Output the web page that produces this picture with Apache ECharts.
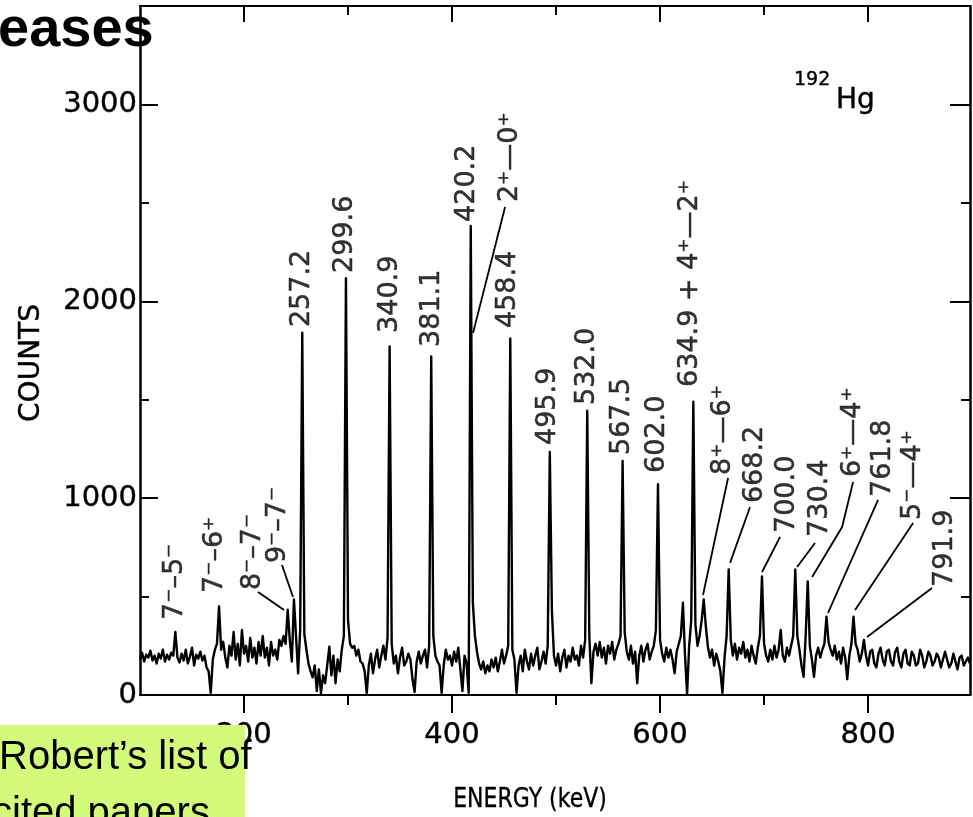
<!DOCTYPE html>
<html><head><meta charset="utf-8">
<script src="https://cdn.jsdelivr.net/npm/echarts@6/dist/echarts.min.js"></script>
<style>html,body{margin:0;padding:0;background:#fff}#c{width:973px;height:817px}</style>
</head><body><div id="c"></div><script>
// ---- data ----
const energyStart = 100;   // keV of first channel
const energyStep = 2;      // keV per channel
const counts = [
 180,215,170,205,190,225,175,200,160,210,
 185,230,170,205,180,215,200,320,190,165,
 210,175,230,160,195,240,150,205,185,220,
 175,200,140,120,10,180,230,260,450,230,
 270,190,140,250,200,320,180,260,150,330,
 210,250,170,290,190,240,160,270,200,300,
 190,240,150,270,200,230,180,280,250,300,
 260,433,280,170,485,300,110,330,1840,310,
 230,160,120,90,150,20,130,10,100,60,
 150,245,100,200,60,180,120,230,300,2117,
 380,260,240,250,200,230,170,160,120,10,
 150,210,110,180,230,140,200,250,180,290,
 1770,260,160,200,110,190,240,150,170,210,
 180,80,15,170,220,160,200,230,140,250,
 1720,300,200,170,150,10,150,230,180,200,
 150,220,170,240,130,20,200,160,10,2383,
 470,300,220,160,130,170,110,150,120,180,
 140,190,120,170,230,160,200,250,1811,230,
 180,10,150,200,120,230,170,130,210,150,
 200,240,130,170,220,160,250,1235,430,200,
 150,210,120,190,230,140,200,170,240,180,
 200,150,250,190,280,1444,300,60,220,260,
 200,270,190,240,160,250,210,270,180,230,
 260,300,1189,320,220,180,250,160,220,60,
 200,250,170,230,260,180,220,250,330,1071,
 280,210,170,240,190,230,180,110,220,260,
 300,469,200,5,250,380,1490,360,250,300,
 380,485,350,245,190,230,150,210,170,120,
 10,190,300,638,280,200,260,180,240,210,
 270,190,230,170,250,200,160,240,300,602,
 260,200,170,230,180,250,190,230,330,200,
 170,240,200,250,300,638,300,230,150,92,
 300,577,250,180,92,200,240,190,230,260,
 398,270,230,200,250,180,220,160,240,190,
 80,200,260,398,260,230,170,210,280,200,
 150,220,230,160,140,210,240,180,150,220,
 230,170,150,220,240,170,140,210,230,160,
 150,220,200,150,160,230,200,140,170,220,
 200,150,170,210,190,140,180,220,180,140,
 160,210,170,130,190,200,150,170,190,160
];
const xMajorTicks = [200, 400, 600, 800];
const xMinorTicks = [300, 500, 700];
const yMajorTicks = [0, 1000, 2000, 3000];
const yMinorTicks = [500, 1500, 2500];

// peak annotations: text, label foot (energy, counts)
const peakLabelText = ['7\u207B\u20135\u207B','7\u207B\u20136\u207A','8\u207B\u20137\u207B','9\u207B\u20137\u207B',
 '257.2','299.6','340.9','381.1','420.2','2\u207A\u20140\u207A','458.4','495.9','532.0','567.5','602.0',
 '634.9 + 4\u207A\u20142\u207A','8\u207A\u20146\u207A','668.2','700.0','730.4','6\u207A\u20144\u207A','761.8','5\u207B\u20144\u207A','791.9'];
const peakLabelEnergy = [133.7,172.1,208.7,232.7,255.8,297.1,340.4,380.8,414.8,455.8,453.8,492.3,529.8,563.5,597.1,
 628.8,660.6,691.3,722.1,753.8,785.6,814.4,843.3,874.0];
const peakLabelCounts = [381,518,533,670,1869,2144,1839,1768,2403,2504,1864,1270,1473,1219,1128,
 1565,1118,975,823,803,1107,1006,889,549];
// leader lines (energy, counts) polylines
const leaderLines = [
 [[213.5,523],[238.5,432]],
 [[236.5,660],[247.1,498]],
 [[420.2,1839],[451.0,2479]],
 [[641.3,508],[665.4,1102]],
 [[667.3,671],[686.5,955]],
 [[698.1,625],[715.4,803]],
 [[731.7,650],[749.0,772]],
 [[746.2,599],[775.0,853],[785.6,1082]],
 [[761.5,417],[809.6,991]],
 [[787.5,432],[843.3,874]],
 [[799.0,295],[861.5,544]]
];

// ---- chart ----
const F = '"DejaVu Sans", sans-serif';
const spectrum = counts.map((c, i) => [energyStart + i * energyStep, c]);
const XMIN = 100, XMAX = 898, YMIN = 0, YMAX = 3500;
const black = '#000';
const plain = v => String(v);

function xAx(pos, ticks, len, inside, showLine, labels) {
  return {
    type: 'value', position: pos, min: XMIN, max: XMAX,
    axisLine: {show: showLine, onZero: false, lineStyle: {color: black, width: 2}},
    axisTick: {show: true, customValues: ticks, length: len, inside: inside, lineStyle: {color: black, width: 2}},
    axisLabel: labels ? {show: true, customValues: labels, formatter: plain, color: '#000', fontSize: 29, fontFamily: F,
                         margin: 26, textBorderColor: '#000', textBorderWidth: 0.4} : {show: false},
    splitLine: {show: false}
  };
}
function yAx(pos, ticks, len, showLine, labels) {
  return {
    type: 'value', position: pos, min: YMIN, max: YMAX,
    axisLine: {show: showLine, onZero: false, lineStyle: {color: black, width: 2.5}},
    axisTick: {show: true, customValues: ticks, length: len, inside: true, lineStyle: {color: black, width: 2}},
    axisLabel: labels ? {show: true, customValues: labels, formatter: plain, color: '#000', fontSize: 29, fontFamily: F,
                         margin: 3, textBorderColor: '#000', textBorderWidth: 0.4} : {show: false},
    splitLine: {show: false}
  };
}

const option = {
  animation: false,
  backgroundColor: '#fff',
  grid: {left: 140, right: 3, top: 6, bottom: 122},
  xAxis: [
    xAx('bottom', xMajorTicks, 18, false, true, xMajorTicks),
    xAx('bottom', xMinorTicks, 10, false, false, null),
    xAx('top', xMajorTicks, 16, true, true, null),
    xAx('top', xMinorTicks, 9, true, false, null)
  ],
  yAxis: [
    yAx('left', yMajorTicks, 18, true, yMajorTicks),
    yAx('left', yMinorTicks, 9, false, null),
    yAx('right', yMajorTicks, 20, true, null),
    yAx('right', yMinorTicks, 9, false, null)
  ],
  series: [
    {type: 'line', data: spectrum, xAxisIndex: 0, yAxisIndex: 0, showSymbol: false, symbol: 'none',
     lineStyle: {color: black, width: 2.4, join: 'round'}, clip: true, silent: true},
    {type: 'lines', coordinateSystem: 'cartesian2d', xAxisIndex: 0, yAxisIndex: 0, polyline: true,
     data: leaderLines.map(l => ({coords: l})),
     lineStyle: {color: black, width: 1.8, opacity: 1, curveness: 0}, silent: true},
    {type: 'scatter', xAxisIndex: 0, yAxisIndex: 0, symbolSize: 0, silent: true,
     data: peakLabelText.map((t, i) => ({name: t, value: [peakLabelEnergy[i], peakLabelCounts[i]]})),
     label: {show: true, formatter: '{b}', position: 'inside', rotate: 90, align: 'left', verticalAlign: 'middle',
             color: '#000', fontSize: 27, fontFamily: F, textBorderColor: '#000', textBorderWidth: 0.5}}
  ],
  graphic: [
    {type: 'text', x: -2, y: 31, z: 100, style: {text: 'eases', font: 'bold 56px "Liberation Sans", Arial, sans-serif', fill: '#000', verticalAlign: 'middle', align: 'left'}},
    {type: 'text', x: 794, y: 80, z: 100, style: {text: '192', font: '19px ' + F, fill: '#000', stroke: '#000', lineWidth: 0.4, verticalAlign: 'middle', align: 'left'}},
    {type: 'text', x: 836, y: 101, z: 100, style: {text: 'Hg', font: '28px ' + F, fill: '#000', stroke: '#000', lineWidth: 0.4, verticalAlign: 'middle', align: 'left'}},
    {type: 'text', x: 32, y: 363, rotation: Math.PI / 2, z: 100, style: {text: 'COUNTS', font: '28px ' + F, fill: '#000', stroke: '#000', lineWidth: 0.4, verticalAlign: 'middle', align: 'center'}},
    {type: 'text', x: 530, y: 800, scaleY: 1.2, z: 100, style: {text: 'ENERGY (keV)', font: '22px ' + F, fill: '#000', stroke: '#000', lineWidth: 0.3, verticalAlign: 'middle', align: 'center'}},
    {type: 'rect', z: 200, shape: {x: 0, y: 725, width: 245, height: 92}, style: {fill: '#d4fa7c'}},
    {type: 'text', x: -1, y: 758, z: 201, style: {text: 'Robert\u2019s list of', font: '40px "Liberation Sans", Arial, sans-serif', fill: '#000', verticalAlign: 'middle', align: 'left'}},
    {type: 'text', x: -8, y: 814, z: 201, style: {text: 'cited papers', font: '40px "Liberation Sans", Arial, sans-serif', fill: '#000', verticalAlign: 'middle', align: 'left'}}
  ]
};
const chart = echarts.init(document.getElementById('c'), null, {renderer: 'canvas'});
chart.setOption(option);
</script></body></html>
